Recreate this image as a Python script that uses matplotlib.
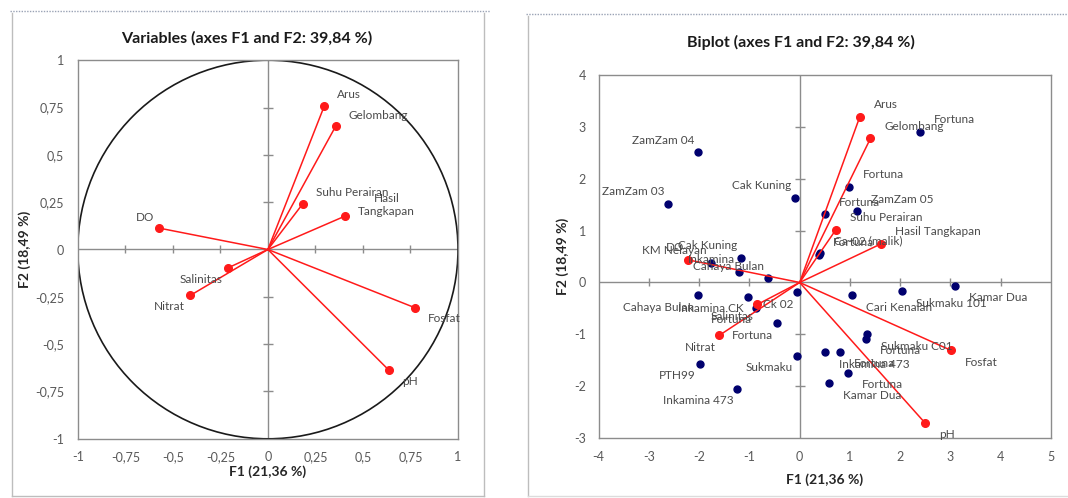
import matplotlib.pyplot as plt
from matplotlib.lines import Line2D
from matplotlib.patches import Circle

plt.rcParams['font.family'] = ['Lato', 'DejaVu Sans']

# Variables: correlations with F1 / F2 (left chart)
var_names = ["Arus", "Gelombang", "Suhu Perairan", "Hasil Tangkapan", "DO",
             "Salinitas", "Nitrat", "Fosfat", "pH"]
var_f1 = [0.297, 0.357, 0.183, 0.407, -0.572, -0.212, -0.409, 0.772, 0.638]
var_f2 = [0.759, 0.652, 0.241, 0.177, 0.113, -0.098, -0.243, -0.307, -0.639]

# Variables in the biplot (scaled)
bi_var_f1 = [1.196, 1.408, 0.718, 1.613, -2.228, -0.841, -1.599, 3.001, 2.488]
bi_var_f2 = [3.190, 2.773, 1.013, 0.741, 0.437, -0.424, -1.019, -1.304, -2.700]

# Observations (ships) in the biplot
obs_names = ["ZamZam 04", "ZamZam 03", "Cak Kuning", "Fortuna", "Fortuna",
             "Fortuna", "ZamZam 05", "Ca-02 (malik)", "Fortuna", "KM Nelayan",
             "Cak Kuning", "Inkamina", "Cahaya Bulan", "Cahaya Bulan", "Inkamina CK",
             "Fortuna", "Fortuna", "Ck 02", "Sukmaku", "PTH99",
             "Inkamina 473", "Sukmaku 101", "Kamar Dua", "Cari Kenalan", "Sukmaku C01",
             "Fortuna", "Inkamina 473", "Fortuna", "Fortuna", "Kamar Dua"]
obs_f1 = [-2.016, -2.611, -0.096, 2.392, 0.984, 0.506, 1.141, 0.410, 0.376, -1.763,
          -1.169, -1.203, -0.629, -2.016, -1.032, -0.875, -0.458, -0.055, -0.062, -1.989,
          -1.237, 2.030, 3.096, 1.046, 1.347, 1.319, 0.506, 0.807, 0.964, 0.574]
obs_f2 = [2.508, 1.516, 1.635, 2.905, 1.846, 1.310, 1.370, 0.576, 0.529, 0.384,
          0.477, 0.205, 0.079, -0.245, -0.278, -0.483, -0.788, -0.192, -1.410, -1.562,
          -2.052, -0.165, -0.060, -0.245, -0.993, -1.085, -1.343, -1.330, -1.741, -1.946]

left_ticks = [-1, -0.75, -0.5, -0.25, 0, 0.25, 0.5, 0.75, 1]
right_xticks = [-4, -3, -2, -1, 0, 1, 2, 3, 4, 5]
right_yticks = [-3, -2, -1, 0, 1, 2, 3, 4]

RED = '#ff1a1a'
NAVY = '#00006e'
GRAY = '#595959'
LABEL = '#4a4a4a'


def fmt(v):
    return ('%g' % v).replace('.', ',')


def style_axes(ax, xticks, yticks, xpad, ypad):
    ax.set_xlim(xticks[0], xticks[-1])
    ax.set_ylim(yticks[0], yticks[-1])
    ax.set_xticks(xticks)
    ax.set_yticks(yticks)
    ax.set_xticklabels([fmt(t) for t in xticks])
    ax.set_yticklabels([fmt(t) for t in yticks])
    ax.tick_params(length=0, labelsize=9, colors=GRAY)
    ax.tick_params(axis='x', pad=xpad)
    ax.tick_params(axis='y', pad=ypad)
    for sp in ax.spines.values():
        sp.set_color('#8c8c8c')
        sp.set_linewidth(1.0)
    ax.axhline(0, color='#8c8c8c', lw=1.0, zorder=1)
    ax.axvline(0, color='#8c8c8c', lw=1.0, zorder=1)
    inner_x = [t for t in xticks[1:-1] if t != 0]
    inner_y = [t for t in yticks[1:-1] if t != 0]
    ax.plot(inner_x, [0] * len(inner_x), ls='none', marker='|', ms=6,
            mew=1.0, color='#8c8c8c', zorder=1)
    ax.plot([0] * len(inner_y), inner_y, ls='none', marker='_', ms=7,
            mew=1.0, color='#8c8c8c', zorder=1)


def put_labels(ax, xs, ys, names, dx_r, dx_l, dy, size):
    for x, y, s in zip(xs, ys, names):
        right = x >= 0
        up = y >= 0
        ax.annotate(s, (x, y), textcoords='offset pixels',
                    xytext=(dx_r if right else -dx_l, dy if up else -dy),
                    ha='left' if right else 'right', va='center',
                    multialignment='center', fontsize=size, color=LABEL, zorder=5)


def vectors(ax, xs, ys, ms):
    for x, y in zip(xs, ys):
        ax.plot([0, x], [0, y], color=RED, lw=1.1, zorder=3)
    ax.plot(xs, ys, ls='none', marker='o', ms=ms, color=RED, zorder=4)


fig = plt.figure(figsize=(10.68, 4.98), dpi=100)
W, H = 1068, 498


def fig_line(x0, y0, x1, y1, **kw):
    fig.add_artist(Line2D([x0 / W, x1 / W], [1 - y0 / H, 1 - y1 / H],
                          transform=fig.transFigure, **kw))


# panel frames and dotted top rules
fig_line(10, 11, 490, 11, color='#9aa3b5', lw=1.0, ls=(0, (1, 1)))
fig_line(526, 14, 1068, 14, color='#9aa3b5', lw=1.0, ls=(0, (1, 1)))
fig_line(12, 13, 12, 496, color='#bdbdbd', lw=1.0)
fig_line(484, 13, 484, 496, color='#bdbdbd', lw=1.0)
fig_line(12, 496, 484, 496, color='#bdbdbd', lw=1.0)
fig_line(528, 16, 528, 496, color='#bdbdbd', lw=1.0)
fig_line(528, 496, 1068, 496, color='#dcdcdc', lw=1.0)

# ---- left: correlation circle ----
ax1 = fig.add_axes([77.8 / W, 1 - 438.8 / H, 380.2 / W, 378.6 / H])
style_axes(ax1, left_ticks, left_ticks, xpad=9, ypad=10)
ax1.add_patch(Circle((0, 0), 1, fill=False, ec='#1a1a1a', lw=1.2, zorder=2))
vectors(ax1, var_f1, var_f2, ms=5.5)
left_names = [n.replace(' ', '\n') if n == "Hasil Tangkapan" else n for n in var_names]
put_labels(ax1, var_f1, var_f2, left_names, dx_r=13, dx_l=5, dy=11, size=8.5)
ax1.xaxis.set_label_coords(0.5, -0.087)
ax1.yaxis.set_label_coords(-0.139, 0.5)
ax1.set_xlabel('F1 (21,36 %)', fontsize=10, fontweight='bold', color='#262626', va='center')
ax1.set_ylabel('F2 (18,49 %)', fontsize=10, fontweight='bold', color='#262626', va='center')
fig.text(247 / W, 1 - 38 / H, 'Variables (axes F1 and F2: 39,84 %)', ha='center',
         va='center', fontsize=11.5, fontweight='bold', color='#1a1a1a')

# ---- right: biplot ----
ax2 = fig.add_axes([598.6 / W, 1 - 438.2 / H, 452.4 / W, 363.4 / H])
style_axes(ax2, right_xticks, right_yticks, xpad=9, ypad=9)
ax2.plot(obs_f1, obs_f2, ls='none', marker='o', ms=5, color=NAVY, zorder=2)
vectors(ax2, bi_var_f1, bi_var_f2, ms=5.5)
put_labels(ax2, obs_f1, obs_f2, obs_names, dx_r=14, dx_l=4, dy=12, size=8.5)
put_labels(ax2, bi_var_f1, bi_var_f2, var_names, dx_r=14, dx_l=4, dy=12, size=8.5)
ax2.xaxis.set_label_coords(0.5, -0.115)
ax2.yaxis.set_label_coords(-0.08, 0.5)
ax2.set_xlabel('F1 (21,36 %)', fontsize=10, fontweight='bold', color='#262626', va='center')
ax2.set_ylabel('F2 (18,49 %)', fontsize=10, fontweight='bold', color='#262626', va='center')
fig.text(801 / W, 1 - 42 / H, 'Biplot (axes F1 and F2: 39,84 %)', ha='center',
         va='center', fontsize=11.5, fontweight='bold', color='#1a1a1a')

fig.savefig('out.png', dpi=100)
